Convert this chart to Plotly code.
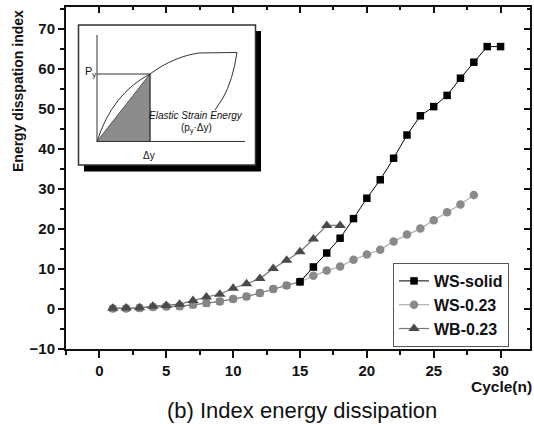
import plotly.graph_objects as go

# ---------------- data ----------------
cycles_ws_solid = list(range(1, 31))
ws_solid = [0.1, 0.15, 0.25, 0.5, 0.6, 0.7, 1.0, 1.4, 1.9, 2.5, 3.1, 4.0, 5.0, 5.9, 6.8,
            10.5, 14.0, 17.7, 22.6, 27.7, 32.3, 37.7, 43.5, 48.3, 50.6, 53.4, 57.7, 61.7, 65.6, 65.6]

cycles_ws_023 = list(range(1, 29))
ws_023 = [0.1, 0.15, 0.25, 0.5, 0.6, 0.7, 1.1, 1.5, 1.9, 2.5, 3.1, 4.0, 5.0, 5.9,
          6.8, 8.3, 9.6, 10.6, 12.3, 13.6, 14.8, 16.9, 18.6, 20.1, 22.2, 24.2, 26.1, 28.5]

cycles_wb_023 = list(range(1, 19))
wb_023 = [0.2, 0.25, 0.3, 0.7, 0.9, 1.2, 2.1, 3.0, 3.7, 5.2, 6.3, 7.6, 10.1, 12.2,
          14.3, 17.5, 20.9, 20.9]

x_ticks = [0, 5, 10, 15, 20, 25, 30]
y_ticks = [-10, 0, 10, 20, 30, 40, 50, 60, 70]

# ---------------- layout geometry ----------------
W, H = 534, 424
ML, MR, MT, MB = 66, 4, 7, 75
PW, PH = W - ML - MR, H - MT - MB


def px(x):
    return (x - ML) / PW


def py(y):
    return (H - MB - y) / PH


def P(x, y):
    return f"{px(x):.5f},{py(y):.5f}"


FONT = "Liberation Sans, Arial, sans-serif"
split = 16  # WS-solid points before this cycle are drawn grey under the overlap

fig = go.Figure()

fig.add_trace(go.Scatter(
    x=cycles_ws_023, y=ws_023, name="WS-0.23", mode="lines+markers",
    line=dict(color="#b0b0b0", width=1.2),
    marker=dict(symbol="circle", size=8.5, color="#8a8a8a"),
    legendrank=2))

n = cycles_ws_solid.index(split) + 1
fig.add_trace(go.Scatter(
    x=cycles_ws_solid[:n], y=ws_solid[:n], mode="lines+markers", showlegend=False,
    line=dict(color="#777777", width=1),
    marker=dict(symbol="square", size=7, color="#858585"), hoverinfo="skip"))

fig.add_trace(go.Scatter(
    x=cycles_ws_solid[n - 2:], y=ws_solid[n - 2:], name="WS-solid", mode="lines+markers",
    line=dict(color="#000000", width=1),
    marker=dict(symbol="square", size=7.5, color="#000000"),
    legendrank=1))

fig.add_trace(go.Scatter(
    x=cycles_wb_023, y=wb_023, name="WB-0.23", mode="lines+markers",
    line=dict(color="#777777", width=1.2),
    marker=dict(symbol="triangle-up", size=10, color="#4a4a4a"),
    legendrank=3))

# mirror axes (ticks inside) on top / right
fig.add_trace(go.Scatter(x=[None], y=[None], xaxis="x2", yaxis="y2",
                         showlegend=False, hoverinfo="skip"))

xr = [-2.5, 32.2]
yr = [-10, 75.5]
tickfont = dict(family=FONT, size=15, color="#111111", weight="bold")

fig.update_layout(
    width=W, height=H,
    margin=dict(l=ML, r=MR, t=MT, b=MB),
    paper_bgcolor="white", plot_bgcolor="white",
    font=dict(family=FONT, color="#111111"),
    xaxis=dict(range=xr, tickvals=x_ticks, ticks="outside", ticklen=7, tickwidth=2,
               tickcolor="#111", showline=True, linecolor="#111", linewidth=2,
               showgrid=False, zeroline=False, tickfont=tickfont,
               minor=dict(dtick=2.5, tick0=0, ticks="outside", ticklen=4, tickwidth=2,
                          tickcolor="#111", showgrid=False)),
    yaxis=dict(range=yr, tickvals=y_ticks, ticks="outside", ticklen=6, tickwidth=2,
               tickcolor="#111", showline=True, linecolor="#111", linewidth=2,
               showgrid=False, zeroline=False, tickfont=tickfont,
               minor=dict(dtick=5, tick0=0, ticks="outside", ticklen=4, tickwidth=2,
                          tickcolor="#111", showgrid=False)),
    xaxis2=dict(range=xr, overlaying="x", side="top", anchor="y2", tickvals=x_ticks,
                ticks="inside", ticklen=6, tickwidth=2, tickcolor="#111",
                showticklabels=False, showline=True, linecolor="#111", linewidth=2,
                showgrid=False, zeroline=False,
                minor=dict(dtick=2.5, tick0=0, ticks="inside", ticklen=3, tickwidth=2,
                           tickcolor="#111", showgrid=False)),
    yaxis2=dict(range=yr, overlaying="y", side="right", anchor="x2", tickvals=y_ticks,
                ticks="inside", ticklen=6, tickwidth=2, tickcolor="#111",
                showticklabels=False, showline=True, linecolor="#111", linewidth=2,
                showgrid=False, zeroline=False,
                minor=dict(dtick=5, tick0=0, ticks="inside", ticklen=3, tickwidth=2,
                           tickcolor="#111", showgrid=False)),
    legend=dict(x=px(393), y=py(263), xanchor="left", yanchor="top",
                bgcolor="white", bordercolor="#555", borderwidth=1,
                font=dict(family=FONT, size=16, color="#111", weight="bold"),
                tracegroupgap=0),
    showlegend=True,
)

# ---------------- text ----------------
anns = [
    dict(text="<b>Energy disspation index</b>", x=px(17.5), y=py(91.5), textangle=-90,
         font=dict(size=14)),
    dict(text="<b>Cycle(n)</b>", x=px(533.5), y=py(386.5), xanchor="right",
         font=dict(size=15.5)),
    dict(text="(b) Index energy dissipation", x=px(302), y=py(410),
         font=dict(size=22)),
    dict(text="P<sub>y</sub>", x=px(90), y=py(72), font=dict(size=11)),
    dict(text="<i>Elastic Strain Energy</i>", x=px(196), y=py(116),
         font=dict(size=10)),
    dict(text="(p<sub>y</sub>·Δy)", x=px(196), y=py(128.5), font=dict(size=10)),
    dict(text="Δy", x=px(149), y=py(155.5), font=dict(size=10)),
]
for a in anns:
    a.setdefault("xanchor", "center")
    a.update(xref="paper", yref="paper", showarrow=False, yanchor="middle")
    a["font"] = dict(family=FONT, color="#111111", **a["font"])
fig.update_layout(annotations=anns)

# ---------------- inset (schematic) ----------------
shapes = []
# shadow + box
shapes.append(dict(type="rect", xref="paper", yref="paper",
                   x0=px(84), x1=px(261), y0=py(31), y1=py(171.5),
                   fillcolor="black", line=dict(width=0)))
shapes.append(dict(type="rect", xref="paper", yref="paper",
                   x0=px(78.5), x1=px(255.5), y0=py(25), y1=py(165),
                   fillcolor="white", line=dict(color="#333", width=1.5)))
# shaded elastic energy triangle
shapes.append(dict(type="path", xref="paper", yref="paper",
                   path=f"M{P(97, 141.5)} L{P(150, 74)} L{P(150, 141.5)} Z",
                   fillcolor="#8c8c8c", line=dict(color="#555", width=1)))
# axes of inset
shapes.append(dict(type="path", xref="paper", yref="paper",
                   path=f"M{P(97, 35)} L{P(97, 141.5)} L{P(245, 141.5)}",
                   line=dict(color="#333", width=1)))
# Py horizontal line + vertical at yield
shapes.append(dict(type="path", xref="paper", yref="paper",
                   path=f"M{P(97, 74)} L{P(150, 74)} L{P(150, 141.5)}",
                   line=dict(color="#333", width=1)))
# elastic curve (bowing above the secant)
shapes.append(dict(type="path", xref="paper", yref="paper",
                   path=f"M{P(97, 141.5)} Q{P(112, 94)} {P(150, 74)}",
                   line=dict(color="#333", width=1)))
# post-yield curve and unloading branch
shapes.append(dict(type="path", xref="paper", yref="paper",
                   path=(f"M{P(150, 74)} C{P(166, 62)} {P(184, 55)} {P(199, 53)} "
                         f"L{P(237, 52.5)} Q{P(233, 80)} {P(223, 98)} L{P(215, 110)}"),
                   line=dict(color="#333", width=1)))
fig.update_layout(shapes=shapes)

fig.write_html("out.html")
